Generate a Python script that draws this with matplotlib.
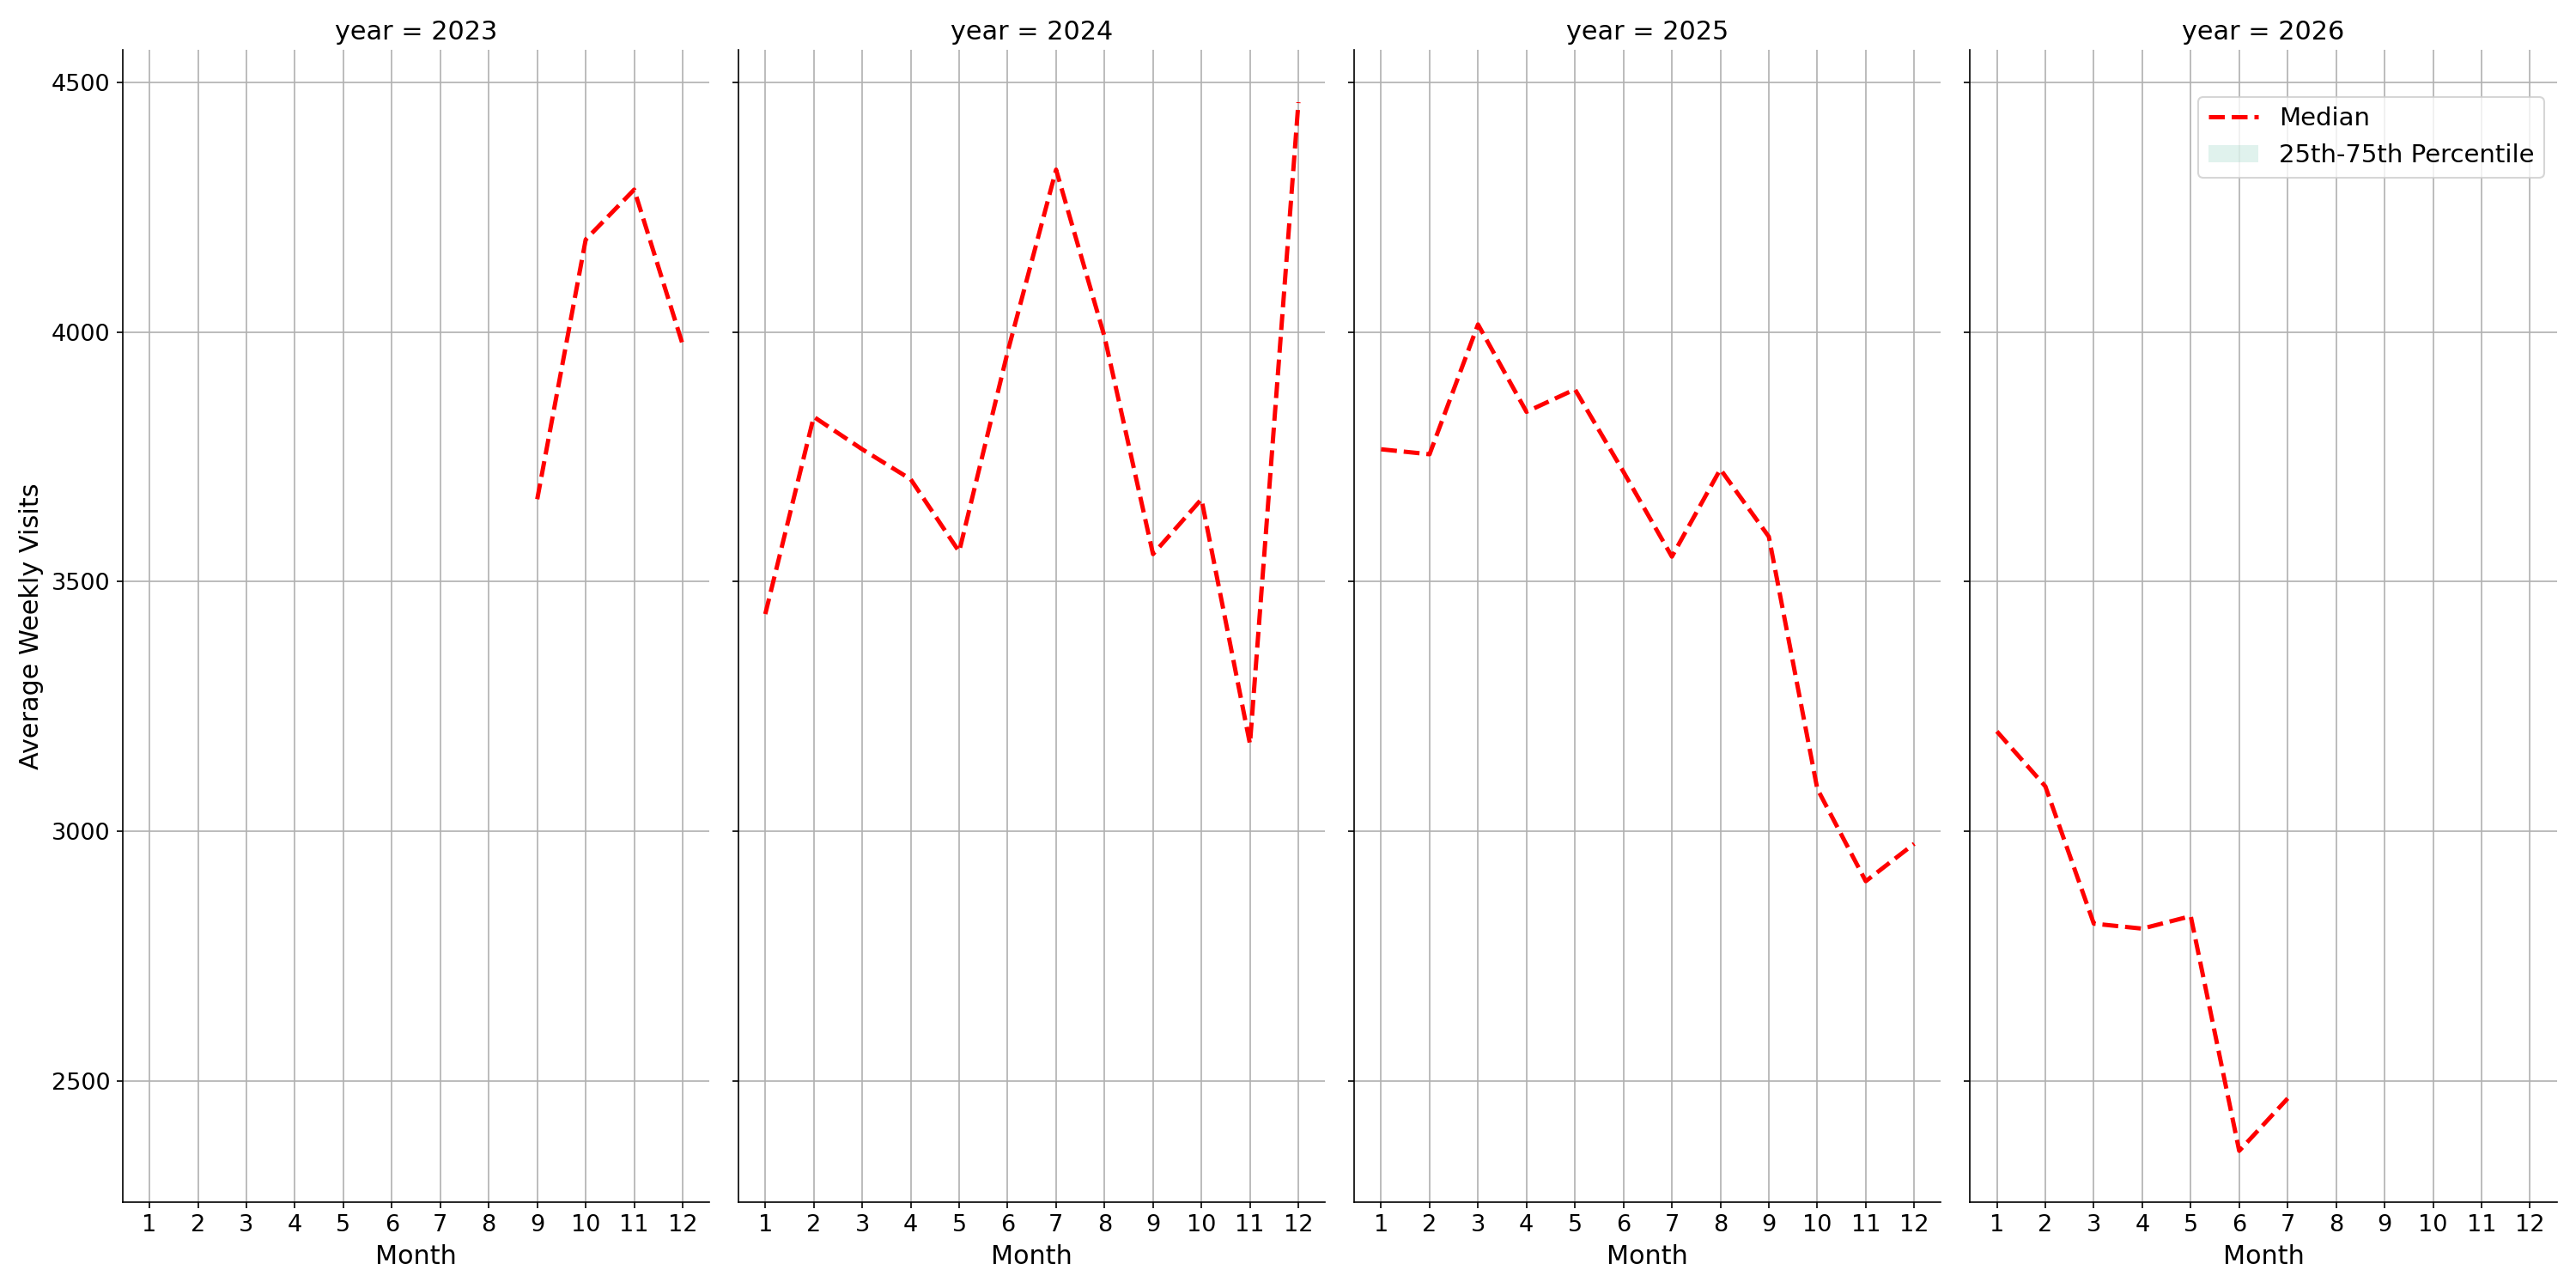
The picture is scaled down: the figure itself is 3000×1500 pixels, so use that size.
import matplotlib.pyplot as plt
from matplotlib.patches import Patch
from matplotlib.lines import Line2D

years = [2023, 2024, 2025, 2026]
months = {
    2023: [9, 10, 11, 12],
    2024: list(range(1, 13)),
    2025: list(range(1, 13)),
    2026: [1, 2, 3, 4, 5, 6, 7],
}
median = {
    2023: [3665, 4185, 4285, 3975],
    2024: [3435, 3830, 3765, 3705, 3560, 3960, 4325, 3990, 3555, 3665, 3175, 4460],
    2025: [3765, 3755, 4015, 3840, 3885, 3720, 3550, 3725, 3590, 3085, 2900, 2975],
    2026: [3200, 3090, 2815, 2805, 2830, 2360, 2465],
}

fig, axes = plt.subplots(1, 4, figsize=(20, 10), dpi=150, sharey=True)
for ax, yr in zip(axes, years):
    ax.plot(months[yr], median[yr], '--', c='red', lw=2.4)
    ax.set_title('year = ' + str(yr), fontsize=14.5)
    ax.set_xticks(range(1, 13))
    ax.set_xlim(0.45, 12.55)
    ax.set_xlabel('Month', fontsize=14.5)
    ax.tick_params(labelsize=13)
    ax.grid(True, color='#b0b0b0', lw=0.8)
    ax.spines['top'].set_visible(False)
    ax.spines['right'].set_visible(False)
axes[0].set_ylim(2258, 4565)
axes[0].set_yticks([2500, 3000, 3500, 4000, 4500])
axes[0].set_ylabel('Average Weekly Visits', fontsize=14.5)

handles = [Line2D([], [], ls='--', c='red', lw=2.4),
           Patch(facecolor='#66c2a5', alpha=0.2)]
axes[3].legend(handles, ['Median', '25th-75th Percentile'], loc='upper right',
               bbox_to_anchor=(1.0, 0.97), fontsize=14)

plt.tight_layout()
plt.subplots_adjust(wspace=0.05)
plt.savefig('out.png')
